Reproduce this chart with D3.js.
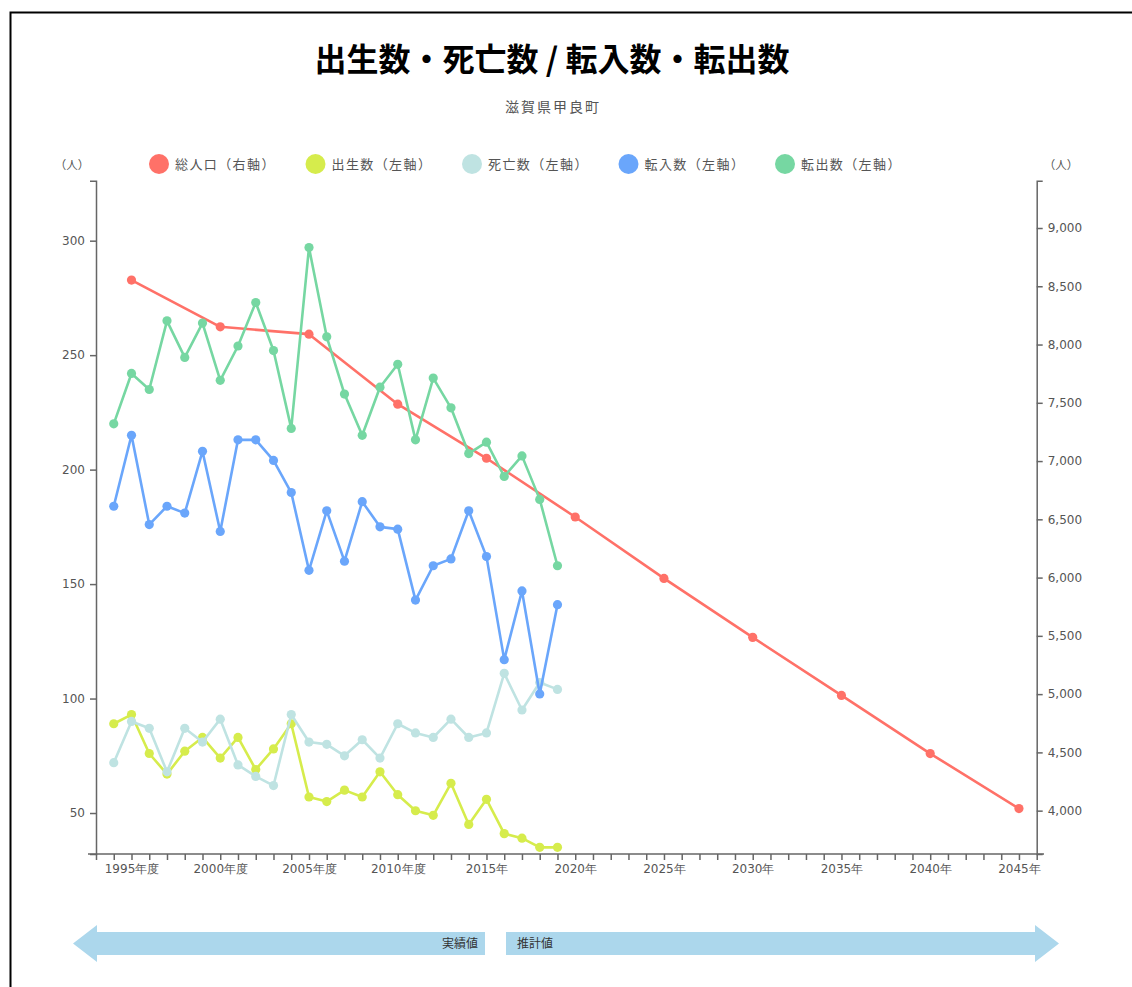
<!DOCTYPE html>
<html>
<head>
<meta charset="utf-8">
<script src="https://cdn.jsdelivr.net/npm/d3@7"></script>
<style>
  html, body { margin: 0; padding: 0; background: #fff; }
  svg { display: block; }
  text { font-family: "DejaVu Sans", sans-serif; }
  .cjk { font-family: "Noto Sans CJK JP", sans-serif; }
</style>
</head>
<body>
<svg id="chart" width="1132" height="987"></svg>
<script>
// ---- data ----
const annualYears = [1994,1995,1996,1997,1998,1999,2000,2001,2002,2003,2004,2005,2006,2007,2008,2009,2010,2011,2012,2013,2014,2015,2016,2017,2018,2019];
const births  = [89,93,76,67,77,83,74,83,69,78,89,57,55,60,57,68,58,51,49,63,45,56,41,39,35,35];
const deaths  = [72,90,87,68,87,81,91,71,66,62,93,81,80,75,82,74,89,85,83,91,83,85,111,95,107,104];
const moveIn  = [184,215,176,184,181,208,173,213,213,204,190,156,182,160,186,175,174,143,158,161,182,162,117,147,102,141];
const moveOut = [220,242,235,265,249,264,239,254,273,252,218,297,258,233,215,236,246,213,240,227,207,212,197,206,187,158];
const popYears = [1995,2000,2005,2010,2015,2020,2025,2030,2035,2040,2045];
const population = [8553,8152,8089,7488,7024,6520,5993,5487,4989,4490,4018];
const leftTicks = [50,100,150,200,250,300];
const rightTicks = [4000,4500,5000,5500,6000,6500,7000,7500,8000,8500,9000];
const xLabelYears = [1995,2000,2005,2010,2015,2020,2025,2030,2035,2040,2045];
const xLabels = ["1995年度","2000年度","2005年度","2010年度","2015年","2020年","2025年","2030年","2035年","2040年","2045年"];
const legendNames = ["総人口（右軸）","出生数（左軸）","死亡数（左軸）","転入数（左軸）","転出数（左軸）"];
const colors = ["#ff7168","#d6ec4c","#bfe3e2","#6aa6fb","#76d7a2"];
const titleText = "出生数・死亡数 / 転入数・転出数";
const subtitleText = "滋賀県甲良町";
const unitText = "（人）";
const actualText = "実績値";
const forecastText = "推計値";

// ---- layout ----
const svg = d3.select("#chart");
const axisColor = "#666";
const labelColor = "#555";

svg.append("rect").attr("x", 10.5).attr("y", 12.5).attr("width", 1140).attr("height", 1000)
  .attr("fill", "#fff").attr("stroke", "#000").attr("stroke-width", 2);

const x = d3.scaleLinear().domain([1993, 2046]).range([96, 1036.7]);
const yL = d3.scaleLinear().domain([32.1, 326.2]).range([854, 180.7]);
const yR = d3.scaleLinear().domain([3628, 9406]).range([854, 180.7]);

// title
svg.append("text").attr("class", "cjk").attr("x", 552).attr("y", 71)
  .attr("text-anchor", "middle").attr("font-size", 32).attr("font-weight", "bold")
  .attr("fill", "#000").text(titleText);
svg.append("text").attr("class", "cjk").attr("x", 553).attr("y", 112)
  .attr("text-anchor", "middle").attr("font-size", 14).attr("letter-spacing", 2)
  .attr("fill", labelColor).text(subtitleText);

// unit labels
svg.append("text").attr("class", "cjk").attr("x", 72).attr("y", 169)
  .attr("text-anchor", "middle").attr("font-size", 11.5).attr("fill", labelColor).text(unitText);
svg.append("text").attr("class", "cjk").attr("x", 1061).attr("y", 169)
  .attr("text-anchor", "middle").attr("font-size", 11.5).attr("fill", labelColor).text(unitText);

// legend
const legend = svg.append("g");
legendNames.forEach((name, i) => {
  const cx = 159 + i * 156.5;
  legend.append("circle").attr("cx", cx).attr("cy", 164).attr("r", 10).attr("fill", colors[i]);
  legend.append("text").attr("class", "cjk").attr("x", cx + 16).attr("y", 169)
    .attr("font-size", 13).attr("letter-spacing", 1.4).attr("fill", labelColor).text(name);
});

// axes
function styleAxis(g) {
  g.selectAll("path.domain").attr("stroke", axisColor).attr("stroke-width", 1.5);
  g.selectAll(".tick line").attr("stroke", axisColor).attr("stroke-width", 1.5);
  g.selectAll(".tick text").attr("fill", labelColor).attr("font-size", 12)
    .attr("font-family", "'DejaVu Sans', 'Noto Sans CJK JP', sans-serif");
}

const gL = svg.append("g").attr("transform", "translate(96,0)")
  .call(d3.axisLeft(yL).tickValues(leftTicks).tickSize(6).tickSizeOuter(6).tickPadding(5));
styleAxis(gL);
const gR = svg.append("g").attr("transform", "translate(1036.7,0)")
  .call(d3.axisRight(yR).tickValues(rightTicks).tickSize(6).tickSizeOuter(6).tickPadding(5)
    .tickFormat(d3.format(",")));
styleAxis(gR);

const allYears = d3.range(1993, 2047);
const gX = svg.append("g").attr("transform", "translate(0,854)")
  .call(d3.axisBottom(x).tickValues(allYears).tickSize(6).tickPadding(4)
    .tickFormat(d => { const k = xLabelYears.indexOf(d); return k >= 0 ? xLabels[k] : ""; }));
styleAxis(gX);
gX.select("path.domain").remove();
svg.append("line").attr("x1", 88).attr("x2", 1044).attr("y1", 854).attr("y2", 854)
  .attr("stroke", axisColor).attr("stroke-width", 1.5);

// series
function drawSeries(xs, vals, scale, color) {
  const pts = xs.map((yr, i) => [x(yr), scale(vals[i])]);
  svg.append("path").attr("d", d3.line()(pts)).attr("fill", "none")
    .attr("stroke", color).attr("stroke-width", 2.6).attr("stroke-linejoin", "round");
  svg.append("g").selectAll("circle").data(pts).join("circle")
    .attr("cx", d => d[0]).attr("cy", d => d[1]).attr("r", 4.6).attr("fill", color);
}
drawSeries(popYears, population, yR, colors[0]);
drawSeries(annualYears, births, yL, colors[1]);
drawSeries(annualYears, deaths, yL, colors[2]);
drawSeries(annualYears, moveIn, yL, colors[3]);
drawSeries(annualYears, moveOut, yL, colors[4]);

// bottom arrows
const arrowColor = "#acd7ec";
svg.append("path").attr("fill", arrowColor)
  .attr("d", "M73,943.5 L97,925 L97,932 L485,932 L485,955 L97,955 L97,962 Z");
svg.append("path").attr("fill", arrowColor)
  .attr("d", "M506,932 L1035,932 L1035,925 L1059,943.5 L1035,962 L1035,955 L506,955 Z");
svg.append("text").attr("class", "cjk").attr("x", 478).attr("y", 948).attr("text-anchor", "end")
  .attr("font-size", 12).attr("fill", "#333").text(actualText);
svg.append("text").attr("class", "cjk").attr("x", 517).attr("y", 948)
  .attr("font-size", 12).attr("fill", "#333").text(forecastText);
</script>
</body>
</html>
